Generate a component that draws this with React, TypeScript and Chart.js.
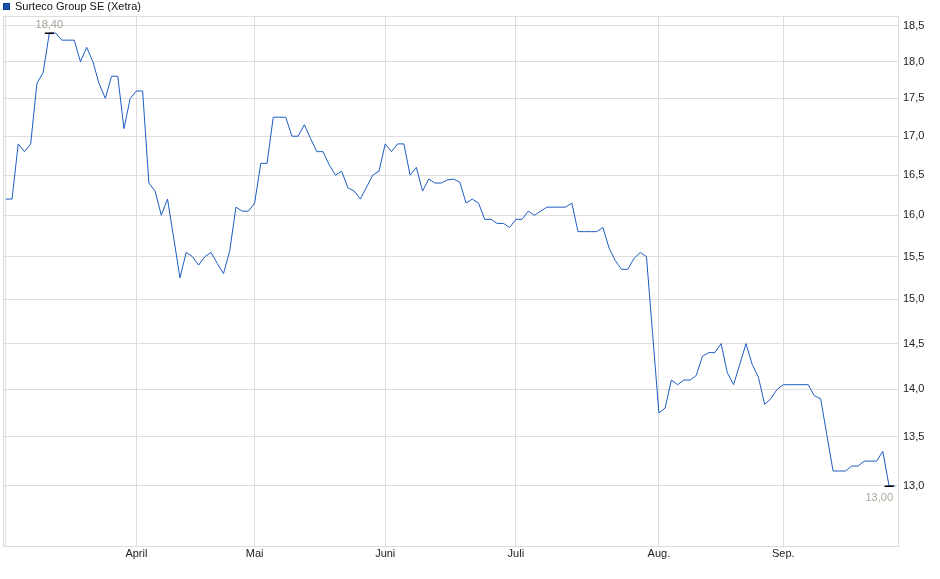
import React, { useEffect, useRef } from 'react';
import { Chart, registerables } from 'chart.js';

Chart.register(...registerables);

const seriesLabel = 'Surteco Group SE (Xetra)';

// Daily closing prices (trading days, mid-March to late September)
const prices = [
  16.2, 16.2, 16.9, 16.8, 16.9, 17.7, 17.85, 18.4, 18.4, 18.3,
  18.3, 18.3, 18.0, 18.2, 18.0, 17.7, 17.5, 17.8, 17.8, 17.1,
  17.5, 17.6, 17.6, 16.4, 16.3, 16.0, 16.2, 15.72, 15.25, 15.55,
  15.5, 15.4, 15.5, 15.55, 15.42, 15.3, 15.57, 16.1, 16.05, 16.05,
  16.15, 16.65, 16.65, 17.25, 17.25, 17.25, 17.0, 17.0, 17.15, 16.97,
  16.8, 16.8, 16.63, 16.5, 16.55, 16.34, 16.3, 16.2, 16.35, 16.5,
  16.55, 16.9, 16.8, 16.9, 16.9, 16.5, 16.6, 16.3, 16.45, 16.4,
  16.4, 16.44, 16.45, 16.41, 16.15, 16.2, 16.15, 15.95, 15.95, 15.9,
  15.9, 15.85, 15.95, 15.95, 16.05, 16.0, 16.05, 16.1, 16.1, 16.1,
  16.1, 16.15, 15.8, 15.8, 15.8, 15.8, 15.85, 15.6, 15.45, 15.35,
  15.35, 15.48, 15.55, 15.5, 14.6, 13.75, 13.8, 14.1, 14.05, 14.1,
  14.1, 14.15, 14.36, 14.4, 14.4, 14.5, 14.18, 14.05, 14.27, 14.5,
  14.27, 14.13, 13.84, 13.9, 14.0, 14.05, 14.05, 14.05, 14.05, 14.05,
  13.93, 13.9, 13.52, 13.15, 13.15, 13.15, 13.2, 13.2, 13.25, 13.25,
  13.25, 13.35, 13.0, 13.0,
];

// Month boundaries (index of first trading day) and their labels
const monthTickIndex = [0, 21, 40, 61, 82, 105, 125];
const monthTickLabels = ['', 'April', 'Mai', 'Juni', 'Juli', 'Aug.', 'Sep.'];

// Price axis ticks (log scale)
const yTickValues = [13.0, 13.5, 14.0, 14.5, 15.0, 15.5, 16.0, 16.5, 17.0, 17.5, 18.0, 18.5];
const yAxisMin = 12.415;
const yAxisMax = 18.642;
const xAxisMin = -0.45;
const xAxisMax = 143.6;

const FONT = '"Liberation Sans", Arial, sans-serif';
const LINE_COLOR = '#1c5cc4';
const GRID_COLOR = '#dddddd';

const fmt = (v: number, d: number) => v.toFixed(d).replace('.', ',');

const overlayPlugin = {
  id: 'overlay',
  beforeDatasetsDraw(chart: any) {
    const { ctx, chartArea } = chart;
    ctx.save();
    ctx.strokeStyle = GRID_COLOR;
    ctx.lineWidth = 1;
    ctx.strokeRect(chartArea.left + 0.5, chartArea.top + 0.5, chartArea.right - chartArea.left - 1, chartArea.bottom - chartArea.top);
    ctx.restore();
  },
  afterDatasetsDraw(chart: any) {
    const { ctx, chartArea } = chart;
    const xs = chart.scales.x;
    const ys = chart.scales.y;
    let maxI = 0;
    let minI = 0;
    prices.forEach((p, i) => {
      if (p > prices[maxI]) maxI = i;
      if (p < prices[minI]) minI = i;
    });
    ctx.save();
    const marks = [
      { i: maxI, above: true },
      { i: minI, above: false },
    ];
    ctx.font = `11px ${FONT}`;
    for (const m of marks) {
      const px = xs.getPixelForValue(m.i);
      const py = ys.getPixelForValue(prices[m.i]);
      ctx.strokeStyle = '#000';
      ctx.lineWidth = 1.5;
      ctx.beginPath();
      ctx.moveTo(px - 4.5, Math.round(py) + 0.25);
      ctx.lineTo(px + 4.5, Math.round(py) + 0.25);
      ctx.stroke();
      const txt = fmt(prices[m.i], 2);
      const w = ctx.measureText(txt).width;
      let left = px - w / 2;
      if (left + w > chartArea.right - 6) left = chartArea.right - 6 - w;
      if (left < chartArea.left + 2) left = chartArea.left + 2;
      ctx.fillStyle = '#aca597';
      ctx.textAlign = 'left';
      if (m.above) {
        ctx.textBaseline = 'alphabetic';
        ctx.fillText(txt, left, py - 5);
      } else {
        ctx.textBaseline = 'top';
        ctx.fillText(txt, left, py + 6);
      }
    }
    ctx.restore();
  },
  afterDraw(chart: any) {
    const { ctx } = chart;
    ctx.save();
    ctx.fillStyle = '#1a52b4';
    ctx.fillRect(3, 3, 7, 7);
    ctx.strokeStyle = '#0d3a8a';
    ctx.lineWidth = 1;
    ctx.strokeRect(3.5, 3.5, 6, 6);
    ctx.fillStyle = '#111';
    ctx.font = `11px ${FONT}`;
    ctx.textAlign = 'left';
    ctx.textBaseline = 'alphabetic';
    ctx.fillText(seriesLabel, 15, 10);
    ctx.restore();
  },
};

export default function App() {
  const canvasRef = useRef<HTMLCanvasElement | null>(null);

  useEffect(() => {
    const canvas = canvasRef.current;
    if (!canvas) return;
    const chart = new Chart(canvas, {
      type: 'line',
      data: {
        datasets: [
          {
            label: seriesLabel,
            data: prices.map((p, i) => ({ x: i, y: p })),
            borderColor: LINE_COLOR,
            borderWidth: 1,
            pointRadius: 0,
            tension: 0,
            fill: false,
          },
        ],
      },
      options: {
        animation: false,
        responsive: false,
        devicePixelRatio: 1,
        layout: { padding: { top: 16, left: 3, right: 0, bottom: 0 } },
        plugins: {
          legend: { display: false },
          tooltip: { enabled: false },
        },
        scales: {
          x: {
            type: 'linear',
            min: xAxisMin,
            max: xAxisMax,
            bounds: 'data',
            afterBuildTicks: (scale: any) => {
              scale.ticks = monthTickIndex.map((v) => ({ value: v }));
            },
            afterFit: (scale: any) => {
              scale.height = 33;
            },
            ticks: {
              autoSkip: false,
              maxRotation: 0,
              padding: 1,
              color: '#222',
              font: { family: FONT, size: 11 },
              callback: (v: any) => {
                const k = monthTickIndex.indexOf(Number(v));
                return k >= 0 ? monthTickLabels[k] : '';
              },
            },
            grid: { color: GRID_COLOR, lineWidth: 1, drawTicks: false },
            border: { display: false },
          },
          y: {
            type: 'logarithmic',
            position: 'right',
            min: yAxisMin,
            max: yAxisMax,
            bounds: 'data',
            afterBuildTicks: (scale: any) => {
              scale.ticks = yTickValues.map((v) => ({ value: v }));
            },
            afterFit: (scale: any) => {
              scale.width = 41;
            },
            ticks: {
              padding: 4,
              color: '#222',
              font: { family: FONT, size: 11 },
              callback: (v: any) => fmt(Number(v), 1),
            },
            grid: { color: GRID_COLOR, lineWidth: 1, drawTicks: false },
            border: { display: false },
          },
        },
      },
      plugins: [overlayPlugin],
    } as any);
    return () => chart.destroy();
  }, []);

  return (
    <div style={{ position: 'fixed', left: 0, top: 0, width: 940, height: 579, background: '#fff' }}>
      <canvas ref={canvasRef} width={940} height={579} style={{ display: 'block', width: 940, height: 579 }} />
    </div>
  );
}
